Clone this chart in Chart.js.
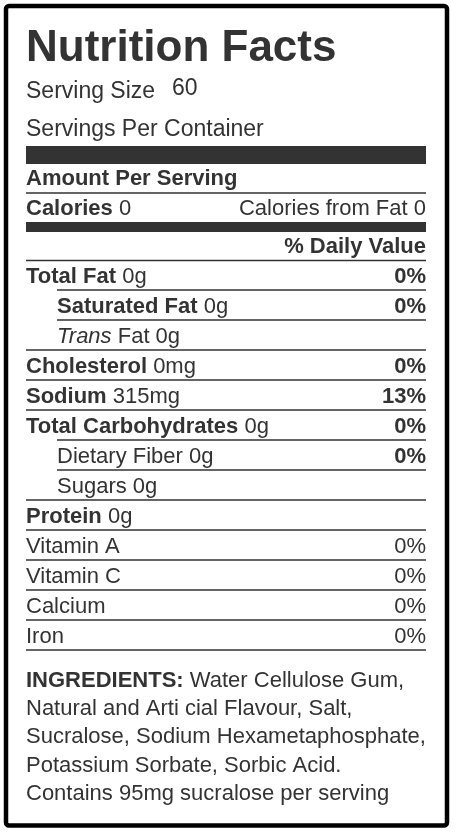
<!DOCTYPE html>
<html>
<head>
<meta charset="utf-8">
<script src="https://cdn.jsdelivr.net/npm/chart.js@4"></script>
<style>
  html, body { margin: 0; padding: 0; background: #fff; }
  #wrap { width: 456px; height: 832px; }
</style>
</head>
<body>
<div id="wrap"><canvas id="label"></canvas></div>
<script>
// dados do rótulo
const rowNames = ['Total Fat', 'Saturated Fat', 'Trans Fat', 'Cholesterol', 'Sodium', 'Total Carbohydrates', 'Dietary Fiber', 'Sugars', 'Protein', 'Vitamin A', 'Vitamin C', 'Calcium', 'Iron'];
const rowAmounts = ['0g', '0g', '0g', '0mg', '315mg', '0g', '0g', '0g', '0g', '', '', '', ''];
const dailyValues = [0, 0, null, 0, 13, 0, 0, null, null, 0, 0, 0, 0];
const servingSize = '60';
const calories = 0;
const caloriesFromFat = 0;
const ingredientLines = [
  'Water Cellulose Gum,',
  'Natural and Arti cial Flavour, Salt,',
  'Sucralose, Sodium Hexametaphosphate,',
  'Potassium Sorbate, Sorbic Acid.',
  'Contains 95mg sucralose per serving'
];

// estilo por linha (separado dos dados)
const boldName = [true, true, false, true, true, true, false, false, true, false, false, false, false];
const indented = [false, true, true, false, false, false, true, true, false, false, false, false, false];
const boldPct = [true, true, false, true, true, true, true, false, false, false, false, false, false];

const INK = '#333';
const FONT = '"Liberation Sans", Arial, sans-serif';
const L = 26, R = 426, IND = 57;
const FS = 22;

function hline(ctx, x1, x2, y, w) {
  ctx.fillStyle = INK;
  ctx.fillRect(x1, y - w / 2, x2 - x1, w);
}

function textRuns(ctx, runs, x, y, size) {
  runs.forEach(r => {
    ctx.font = r[1] + ' ' + (size || FS) + 'px ' + FONT;
    ctx.fillText(r[0], x, y);
    x += ctx.measureText(r[0]).width;
  });
}

const labelPlugin = {
  id: 'nutritionLabel',
  beforeDraw(chart) {
    const ctx = chart.ctx;
    ctx.save();
    ctx.fillStyle = '#fff';
    ctx.fillRect(0, 0, chart.width, chart.height);
    ctx.restore();
  },
  afterDraw(chart) {
    const ctx = chart.ctx;
    const y = chart.scales.y;
    ctx.save();
    ctx.textBaseline = 'alphabetic';
    ctx.fillStyle = INK;

    // borda externa
    ctx.strokeStyle = '#000';
    ctx.lineWidth = 4.5;
    ctx.beginPath();
    ctx.roundRect(6, 6, 441, 819.5, 3);
    ctx.stroke();

    // cabeçalho
    ctx.font = 'bold 44px ' + FONT;
    ctx.fillText('Nutrition Facts', L, 61);
    ctx.font = '23px ' + FONT;
    ctx.fillText('Serving Size', L, 98);
    ctx.fillText(servingSize, 172, 95);
    ctx.fillText('Servings Per Container', L, 136);
    hline(ctx, L, R, 155, 18);
    ctx.font = 'bold ' + FS + 'px ' + FONT;
    ctx.fillText('Amount Per Serving', L, 185);
    hline(ctx, L, R, 193, 1.5);
    textRuns(ctx, [['Calories ', 'bold'], [String(calories), 'normal']], L, 215);
    ctx.textAlign = 'right';
    ctx.font = FS + 'px ' + FONT;
    ctx.fillText('Calories from Fat ' + caloriesFromFat, R, 215);
    hline(ctx, L, R, 227, 10);
    ctx.font = 'bold ' + FS + 'px ' + FONT;
    ctx.fillText('% Daily Value', R, 253);
    ctx.textAlign = 'left';
    hline(ctx, L, R, 260.5, 1.5);

    // linhas de nutrientes (posições pela escala y)
    const step = y.getPixelForValue(1) - y.getPixelForValue(0);
    rowNames.forEach((name, i) => {
      const cy = y.getPixelForValue(i);
      const base = cy + 8;
      const x = indented[i] ? IND : L;
      let runs;
      if (name === 'Trans Fat') {
        runs = [['Trans', 'italic'], [' Fat ' + rowAmounts[i], 'normal']];
      } else {
        runs = [[name, boldName[i] ? 'bold' : 'normal']];
        if (rowAmounts[i]) runs.push([' ' + rowAmounts[i], 'normal']);
      }
      textRuns(ctx, runs, x, base);
      if (dailyValues[i] !== null) {
        ctx.textAlign = 'right';
        ctx.font = (boldPct[i] ? 'bold' : 'normal') + ' ' + FS + 'px ' + FONT;
        ctx.fillText(dailyValues[i] + '%', R, base);
        ctx.textAlign = 'left';
      }
      const next = i + 1 < rowNames.length && indented[i + 1] ? IND : L;
      hline(ctx, next, R, cy + step / 2, 1.5);
    });

    // ingredientes
    let iy = 687;
    ingredientLines.forEach((line, k) => {
      if (k === 0) textRuns(ctx, [['INGREDIENTS: ', 'bold'], [line, 'normal']], L, iy);
      else textRuns(ctx, [[line, 'normal']], L, iy);
      iy += 28.2;
    });
    ctx.restore();
  }
};

new Chart(document.getElementById('label'), {
  type: 'bar',
  data: {
    labels: rowNames,
    datasets: [{ data: dailyValues, backgroundColor: 'rgba(0,0,0,0)' }]
  },
  options: {
    indexAxis: 'y',
    responsive: true,
    maintainAspectRatio: false,
    animation: false,
    events: [],
    layout: { padding: { top: 260, bottom: 182, left: 26, right: 30 } },
    scales: {
      y: { display: false, offset: true },
      x: { display: false, min: 0, max: 100 }
    },
    plugins: { legend: { display: false }, tooltip: { enabled: false } }
  },
  plugins: [labelPlugin]
});
</script>
</body>
</html>
